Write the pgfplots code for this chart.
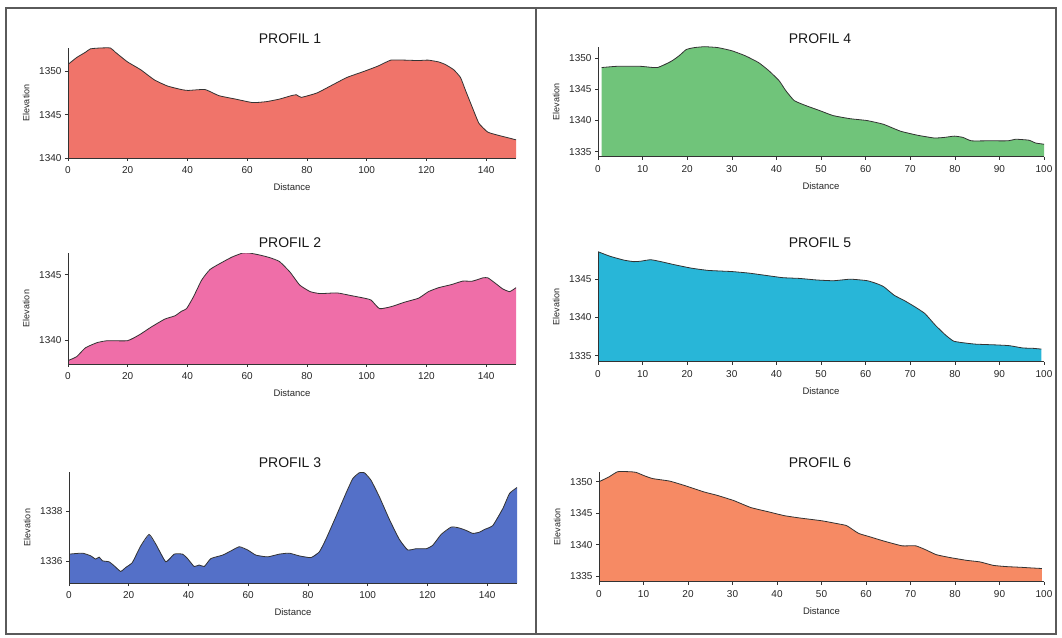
\documentclass[border=0pt]{standalone}
\usepackage{pgfplots}
\pgfplotsset{compat=1.18}
\usepackage{pgfplotstable}
\usepackage{fontspec}
\setmainfont{Liberation Sans}
\definecolor{cA}{RGB}{240,116,106}
\definecolor{cB}{RGB}{239,110,168}
\definecolor{cC}{RGB}{84,112,200}
\definecolor{cD}{RGB}{112,196,122}
\definecolor{cE}{RGB}{40,182,216}
\definecolor{cF}{RGB}{246,138,100}
\definecolor{frame}{RGB}{90,90,90}

% first two rows: baseline corners for the filled area
\pgfplotstableread{
x y
150 1340
0 1340
0 1350.8
2.9 1351.6
5.8 1352.2
7.5 1352.6
10.8 1352.7
14.2 1352.7
15.9 1352.2
19.9 1351.1
24.3 1350.2
29.0 1349.0
33.4 1348.3
38.0 1347.9
40.2 1347.8
45.9 1347.9
50.5 1347.2
56.1 1346.8
61.8 1346.4
66.3 1346.5
70.8 1346.8
74.8 1347.2
76.5 1347.3
78.1 1347.0
83.3 1347.5
87.8 1348.3
93.4 1349.3
99.1 1350.0
103.7 1350.6
108.1 1351.3
112.7 1351.3
117.3 1351.25
120.6 1351.3
124.0 1351.1
126.3 1350.8
129.1 1350.2
131.4 1349.3
133.1 1347.8
135.3 1345.9
137.6 1344.0
140.5 1343.0
143.2 1342.7
146.6 1342.4
150 1342.1
}\tA

\pgfplotstableread{
x y
150 1338.17
0 1338.17
0 1338.43
2.9 1338.73
5.8 1339.4
9.7 1339.8
13.2 1339.95
19.9 1339.95
23.9 1340.4
27.9 1341.0
32.4 1341.6
35.8 1341.85
38.0 1342.2
39.7 1342.4
42.0 1343.3
44.8 1344.6
47.6 1345.4
51.7 1345.95
55.0 1346.35
58.5 1346.65
60.7 1346.65
64.1 1346.5
67.5 1346.3
70.8 1346.0
74.3 1345.2
77.6 1344.2
81.1 1343.7
84.4 1343.55
90.1 1343.6
94.7 1343.4
99.2 1343.2
101.5 1343.05
104.3 1342.4
108.2 1342.55
112.8 1342.9
117.4 1343.2
120.7 1343.7
124.1 1344.0
128.6 1344.25
132.1 1344.5
135.4 1344.5
138.9 1344.75
140.6 1344.75
143.3 1344.3
145.6 1343.9
147.9 1343.7
150 1344.0
}\tB

\pgfplotstableread{
x y
150 1335.1
0 1335.1
0 1336.27
4.5 1336.31
7.3 1336.2
8.9 1336.07
10.1 1336.15
11.2 1336.0
13.4 1335.96
15.1 1335.8
17.3 1335.57
19.0 1335.73
21.2 1335.93
24.0 1336.6
26.8 1337.07
29.1 1336.67
32.4 1335.96
35.2 1336.27
38.0 1336.27
39.7 1336.09
41.9 1335.77
43.6 1335.83
45.3 1335.77
47.5 1336.09
51.4 1336.23
54.2 1336.4
57.0 1336.57
59.8 1336.44
62.6 1336.23
66.5 1336.16
70.4 1336.27
73.7 1336.31
77.1 1336.2
81.0 1336.13
83.8 1336.36
86.0 1336.87
89.4 1337.8
92.7 1338.73
95.0 1339.33
97.2 1339.57
98.9 1339.57
101.1 1339.27
103.9 1338.6
107.3 1337.67
110.6 1336.87
113.4 1336.44
116.2 1336.49
119.6 1336.49
121.8 1336.63
124.6 1337.07
128.0 1337.37
130.7 1337.33
133.0 1337.23
135.2 1337.11
137.4 1337.16
139.1 1337.27
141.9 1337.43
145.3 1338.13
147.5 1338.73
150 1338.97
}\tC

\pgfplotstableread{
x y
100 1334.2
0.8 1334.2
0.8 1348.5
4.2 1348.7
9.5 1348.7
13.3 1348.5
16.4 1349.5
18.2 1350.4
19.8 1351.4
21.6 1351.7
23.9 1351.85
26.9 1351.7
30.0 1351.2
33.0 1350.4
36.0 1349.3
38.3 1348.0
40.6 1346.4
42.1 1344.8
44.0 1343.2
46.6 1342.4
49.7 1341.6
52.7 1340.8
56.5 1340.3
60.3 1340.0
64.0 1339.4
67.8 1338.3
71.6 1337.65
75.4 1337.2
77.7 1337.3
79.9 1337.5
81.8 1337.3
83.7 1336.75
87.5 1336.75
92.0 1336.75
93.6 1337.0
96.6 1336.85
98.1 1336.4
100 1336.2
}\tD

\pgfplotstableread{
x y
99.4 1334.2
0 1334.2
0 1348.6
2.7 1348.0
5.8 1347.5
8.0 1347.3
9.5 1347.35
11.8 1347.55
14.1 1347.3
17.1 1346.9
20.9 1346.45
24.7 1346.15
30.0 1346.0
33.8 1345.8
37.6 1345.5
41.4 1345.2
45.2 1345.1
49.0 1344.9
52.8 1344.8
56.6 1345.0
60.4 1344.8
62.6 1344.4
64.1 1344.0
66.4 1342.9
68.7 1342.2
71.0 1341.4
73.3 1340.5
75.6 1339.0
77.9 1337.7
79.7 1336.9
81.6 1336.7
84.6 1336.5
89.1 1336.4
92.2 1336.3
95.2 1336.0
97.5 1335.95
99.4 1335.85
}\tE

\pgfplotstableread{
x y
99.5 1334.1
0 1334.1
0 1350.0
2.3 1350.8
4.2 1351.6
6.8 1351.6
8.3 1351.5
10.2 1350.95
12.1 1350.5
15.9 1350.1
19.7 1349.3
23.5 1348.4
26.5 1347.85
30.3 1347.0
34.1 1345.9
37.9 1345.25
41.7 1344.6
45.5 1344.2
50.0 1343.8
53.8 1343.3
55.7 1343.0
58.3 1341.8
60.6 1341.3
63.6 1340.65
65.9 1340.2
68.2 1339.8
71.2 1339.8
73.5 1339.15
75.8 1338.4
78.8 1337.95
82.6 1337.5
85.6 1337.25
88.6 1336.7
91.6 1336.5
94.6 1336.4
96.9 1336.3
99.5 1336.2
}\tF

\pgfplotsset{prof/.style={
  scale only axis,
  axis on top,
  axis x line=bottom, axis y line=left,
  axis line style={-, black!80, line width=0.8pt},
  tick style={black!80, line width=0.6pt},
  tick align=outside, major tick length=3pt,
  minor tick num=0,
  ticklabel style={font=\fontsize{10}{10}\selectfont, text=black!85},
  xticklabel style={yshift=-2pt},
  /pgf/number format/assume math mode=true,
  /pgf/number format/1000 sep={},
  scaled ticks=false,
  xlabel={Distance}, ylabel={Elevation},
  xlabel style={font=\fontsize{9.5}{10}\selectfont, text=black!85, yshift=-3pt},
  ylabel style={font=\fontsize{9}{10}\selectfont, text=black!85, yshift=3pt},
  clip=true,
},
fillp/.style={draw=none, fill=#1},
linep/.style={draw=black!80, line width=0.8pt, smooth, tension=0.3, skip coords between index={0}{2}}}

\begin{document}
\begin{tikzpicture}
\useasboundingbox (0pt,0pt) rectangle (1062pt,637pt);
\fill[white] (0pt,0pt) rectangle (1062pt,637pt);
\draw[frame, line width=1.3pt] (6pt,3pt) rectangle (1056pt,629pt);
\draw[frame, line width=1.3pt] (536pt,3pt) -- (536pt,629pt);

% Panel 1
\begin{axis}[prof, at={(68pt,479pt)}, anchor=south west, width=448pt, height=110pt,
  xmin=0, xmax=150, ymin=1340, ymax=1352.7,
  xtick={0,20,...,140}, ytick={1340,1345,1350}]
\addplot[fillp=cA] table {\tA};
\addplot[linep] table {\tA};
\end{axis}
% Panel 2
\begin{axis}[prof, at={(68pt,273pt)}, anchor=south west, width=448pt, height=111pt,
  xmin=0, xmax=150, ymin=1338.17, ymax=1346.65,
  xtick={0,20,...,140}, ytick={1340,1345}]
\addplot[fillp=cB] table {\tB};
\addplot[linep] table {\tB};
\end{axis}
% Panel 3
\begin{axis}[prof, at={(69pt,54pt)}, anchor=south west, width=448pt, height=111pt,
  xmin=0, xmax=150, ymin=1335.1, ymax=1339.6,
  xtick={0,20,...,140}, ytick={1336,1338}]
\addplot[fillp=cC] table {\tC};
\addplot[linep] table {\tC};
\end{axis}
% Panel 4
\begin{axis}[prof, at={(598pt,480.3pt)}, anchor=south west, width=446pt, height=110pt,
  xmin=0, xmax=100, ymin=1334.2, ymax=1351.85,
  xtick={0,10,...,100}, ytick={1335,1340,1345,1350}]
\addplot[fillp=cD] table {\tD};
\addplot[linep] table {\tD};
\end{axis}
% Panel 5
\begin{axis}[prof, at={(598pt,275.3pt)}, anchor=south west, width=446pt, height=110pt,
  xmin=0, xmax=100, ymin=1334.2, ymax=1348.6,
  xtick={0,10,...,100}, ytick={1335,1340,1345}]
\addplot[fillp=cE] table {\tE};
\addplot[linep] table {\tE};
\end{axis}
% Panel 6
\begin{axis}[prof, at={(599pt,55.3pt)}, anchor=south west, width=445pt, height=110pt,
  xmin=0, xmax=100, ymin=1334.1, ymax=1351.6,
  xtick={0,10,...,100}, ytick={1335,1340,1345,1350}]
\addplot[fillp=cF] table {\tF};
\addplot[linep] table {\tF};
\end{axis}

\begin{scope}[font=\fontsize{14}{16}\selectfont, text=black!90]
\node at (290pt,598pt) {PROFIL 1};
\node at (290pt,394pt) {PROFIL 2};
\node at (290pt,174pt) {PROFIL 3};
\node at (820pt,598pt) {PROFIL 4};
\node at (820pt,394pt) {PROFIL 5};
\node at (820pt,174pt) {PROFIL 6};
\end{scope}
\end{tikzpicture}
\end{document}
